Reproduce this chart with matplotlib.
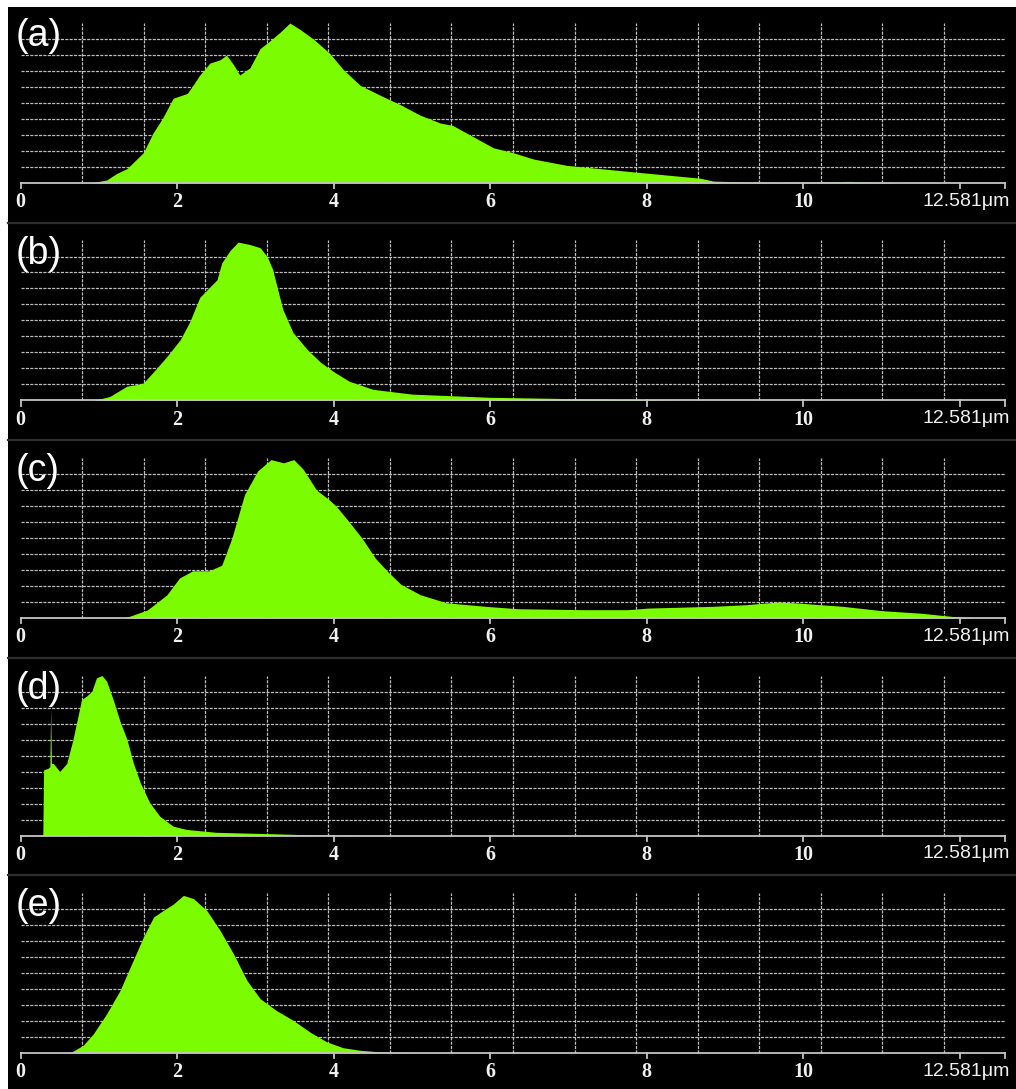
"""
Particle size distributions (a)-(e), analyser-screen style.
"""
import matplotlib
matplotlib.use("Agg")
import matplotlib.pyplot as plt
from matplotlib.patches import Rectangle
from matplotlib.lines import Line2D

BG     = "#000000"
GREEN  = "#7CFC00"
GRID   = "#bdbdbd"
AXIS   = "#c4c4c4"
TEXT   = "#f0f0f0"
SEP    = "#2e2e2e"

XMAX = 12.581

# ── Data (size in um, relative count 0-10) ─────────────────────────────────────
A_X = [0.89, 1.10, 1.23, 1.36, 1.57, 1.69, 1.82, 1.95, 2.13, 2.16, 2.29, 2.42,
       2.55, 2.63, 2.72, 2.80, 2.93, 3.06, 3.19, 3.31, 3.44, 3.57, 3.74, 3.95,
       4.12, 4.34, 4.63, 4.85, 5.10, 5.36, 5.52, 5.78, 6.04, 6.29, 6.55, 6.98,
       7.40, 7.82, 8.25, 8.68, 8.85, 9.30, 9.70, 10.25, 10.60, 11.00, 11.20]
A_Y = [0.00, 0.19, 0.60, 0.90, 1.90, 3.10, 4.10, 5.30, 5.60, 5.80, 6.75, 7.50,
       7.70, 8.00, 7.40, 6.75, 7.20, 8.40, 8.90, 9.40, 10.00, 9.60, 9.00, 8.10,
       7.10, 6.10, 5.40, 4.90, 4.25, 3.75, 3.60, 2.90, 2.20, 1.90, 1.50, 1.10,
       0.90, 0.70, 0.50, 0.30, 0.12, 0.06, 0.04, 0.08, 0.10, 0.05, 0.00]

B_X = [0.93, 1.14, 1.36, 1.49, 1.57, 1.70, 1.87, 2.04, 2.16, 2.29, 2.42, 2.51,
       2.57, 2.68, 2.78, 2.93, 3.06, 3.15, 3.22, 3.35, 3.48, 3.66, 3.83, 4.00,
       4.20, 4.50, 5.00, 5.50, 6.00, 7.00, 8.00, 8.50]
B_Y = [0.00, 0.25, 0.90, 1.00, 1.10, 1.80, 2.75, 3.80, 4.90, 6.45, 7.10, 7.55,
       8.60, 9.40, 9.90, 9.75, 9.55, 9.00, 8.20, 5.70, 4.25, 3.20, 2.40, 1.80,
       1.20, 0.70, 0.40, 0.30, 0.20, 0.12, 0.05, 0.00]

C_X = [1.33, 1.62, 1.87, 2.03, 2.20, 2.41, 2.57, 2.70, 2.86, 3.03, 3.20, 3.36,
       3.49, 3.61, 3.78, 3.94, 4.03, 4.19, 4.36, 4.53, 4.69, 4.86, 5.11, 5.44,
       5.94, 6.35, 7.18, 7.76, 8.01, 8.84, 9.26, 9.67, 9.92, 10.50, 11.00,
       11.50, 11.90, 12.20]
C_Y = [0.00, 0.50, 1.45, 2.50, 2.95, 2.95, 3.30, 5.00, 7.70, 9.20, 9.90, 9.70,
       9.90, 9.30, 8.00, 7.40, 7.00, 6.05, 5.00, 3.75, 2.90, 2.10, 1.45, 0.95,
       0.73, 0.58, 0.52, 0.52, 0.62, 0.73, 0.83, 1.00, 0.94, 0.73, 0.46,
       0.30, 0.10, 0.00]

D_X = [0.285, 0.295, 0.35, 0.375, 0.385, 0.395, 0.42, 0.50, 0.59, 0.67, 0.78,
       0.84, 0.91, 0.97, 1.04, 1.10, 1.19, 1.27, 1.36, 1.44, 1.53, 1.65, 1.78,
       1.95, 2.12, 2.50, 3.14, 3.57, 4.50]
D_Y = [0.00, 4.10, 4.20, 4.30, 8.00, 4.50, 4.50, 4.00, 4.50, 6.00, 8.50,
       8.70, 9.00, 9.85, 10.00, 9.65, 8.40, 7.15, 6.00, 4.55, 3.30, 2.05, 1.20,
       0.58, 0.38, 0.20, 0.12, 0.06, 0.00]

E_X = [0.63, 0.80, 0.93, 1.10, 1.27, 1.44, 1.57, 1.70, 1.82, 1.95, 2.08, 2.21,
       2.38, 2.55, 2.72, 2.89, 3.06, 3.27, 3.48, 3.70, 3.91, 4.12, 4.34, 4.63,
       5.00]
E_Y = [0.00, 0.48, 1.20, 2.45, 3.90, 5.80, 7.25, 8.50, 8.90, 9.30, 9.85, 9.65,
       8.90, 7.65, 6.20, 4.55, 3.40, 2.65, 2.05, 1.30, 0.70, 0.33, 0.17, 0.06,
       0.00]

PANELS = [("(a)", A_X, A_Y), ("(b)", B_X, B_Y), ("(c)", C_X, C_Y),
          ("(d)", D_X, D_Y), ("(e)", E_X, E_Y)]
TICKS = [0, 2, 4, 6, 8, 10]

# ── Pixel geometry ─────────────────────────────────────────────────────────────
FW, FH = 1016, 1089
LEFT_PX, TOP_PX = 8, 7
X0_PX, X1_PX = 20.5, 1005.5
PPU_X = (X1_PX - X0_PX) / XMAX      # px per um
PPU_Y = 16.0                         # px per y unit
PITCH = 217.5                        # panel pitch
BASE0 = 183.0                        # baseline of panel (a)

fig = plt.figure(figsize=(FW / 100, FH / 100), dpi=100)
fig.patch.set_facecolor("white")
fig.patches.append(Rectangle((LEFT_PX / FW, 0), 1 - LEFT_PX / FW, 1 - TOP_PX / FH,
                             transform=fig.transFigure, facecolor=BG,
                             edgecolor="none", zorder=-10))

xl = (LEFT_PX - X0_PX) / PPU_X
xr = (FW - X0_PX) / PPU_X

for i, (label, xs, ys) in enumerate(PANELS):
    sep_top = 5 + PITCH * i
    top = max(TOP_PX, sep_top)
    bot = min(FH, sep_top + PITCH)
    base = BASE0 + PITCH * i
    ax = fig.add_axes([LEFT_PX / FW, 1 - bot / FH, 1 - LEFT_PX / FW, (bot - top) / FH])
    ax.set_facecolor("none")
    ax.set_xlim(xl, xr)
    ax.set_ylim(-(bot - base) / PPU_Y, (base - top) / PPU_Y)
    ax.axis("off")

    # grid
    for k in range(1, 16):
        gx = k * XMAX / 16
        ax.plot([gx, gx], [0, 10], color=GRID, lw=0.9, ls=(0, (2.5, 1)), zorder=1)
    for gy in range(1, 10):
        ax.plot([0, XMAX], [gy, gy], color=GRID, lw=0.9, ls=(0, (2.5, 1)), zorder=1)

    # distribution
    ax.fill_between(xs, ys, 0, color=GREEN, lw=0, zorder=3)

    # baseline axis + ticks
    ax.plot([0, XMAX], [0, 0], color=AXIS, lw=1.3, zorder=4)
    for t in TICKS + [12, XMAX]:
        ax.plot([t, t], [0, -0.32], color=AXIS, lw=1.3, zorder=4)
    for t in TICKS:
        ax.text(t, -1.2, str(t), color=TEXT, fontsize=14.5,
                family="Liberation Serif", fontweight="bold",
                ha="center", va="center")
    ax.text((1010 - X0_PX) / PPU_X, -1.15, "12.581\u03bcm", color=TEXT,
            fontsize=14, family="Liberation Sans", ha="right", va="center")

    # panel label
    ax.text((16 - X0_PX) / PPU_X, 10.3, label, color="white", fontsize=27,
            family="Liberation Sans", ha="left", va="top", zorder=5)

# separators
for i in range(1, 5):
    y = 1 - (5 + PITCH * i) / FH
    fig.add_artist(Line2D([LEFT_PX / FW, 1], [y, y], transform=fig.transFigure,
                          color=SEP, lw=1.6))

fig.savefig("out.png", dpi=100, facecolor="white")
plt.close(fig)
